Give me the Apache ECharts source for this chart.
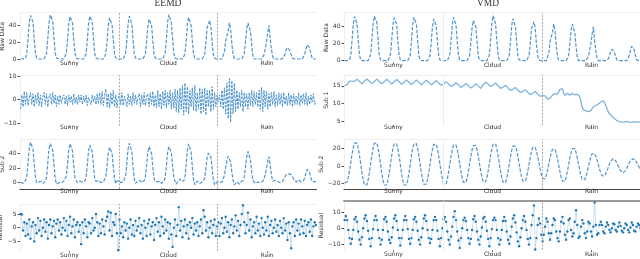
<!DOCTYPE html>
<html><head><meta charset="utf-8">
<script src="https://cdn.jsdelivr.net/npm/echarts@6/dist/echarts.min.js"></script>
<style>html,body{margin:0;padding:0;background:#fff}#c{width:640px;height:259px}</style>
</head><body><div id="c"></div>
<script>
// ---------- data ----------
const segments = ['Sunny', 'Cloud', 'Rain'];
const methods = ['EEMD', 'VMD'];
const rowNames = ['Raw Data', 'Sub 1', 'Sub 2', 'Residual'];

const rawData = [
0,0,0,0,1,7,24,43,52,52.5,44,24,7,1,0,0,
0,0,0,0,1,7,24,43,52.5,53,45,25,7,1,0,0,
0,0,0,0,1,7,23,42,50.5,51,43,23,7,1,0,0,
0,0,0,0,1,6,23,42,51,51.5,43,24,6,1,0,0,
0,0,0,0,1,6,22,40,49,49.5,41,23,6,1,0,0,
0,0,0,0,1,7,23,42,51,50.5,42,23,6,1,0,0,
0,0,0,0,1,6,21,39,47.5,48,40,22,6,1,0,0,
0,0,0,0,1,7,24,44,53,52,43,24,7,1,0,0,
0,0,0,0,1,6,22,41,49.5,48,40,22,6,1,0,0,
0,0,0,0,1,6,20,38,41,46,39,20,5,1,0,0,
0,0,0,0,2,9,22,28,34,43,35,18,5,1,0,0,
0,0,0,0,1,6,20,36,43,41,33,17,4,0,0,0,
0,0,0,0,1,5,12,20,31,40,24,12,3,0,0,0,
0,0,0,0,0,2,6,11,13.5,13,10,5,1,0,0,0,
0,0,0,0,0,2,6,12,17,18,13,6,1,0,0,0
];

const eemdSub1 = [
-4,2,-3,3.5,-2,3,-2.5,1,3,-2,2.5,-3,2,-1.5,3,-2.5,
2,-3,1.5,3,-2,2.5,-3,1,2.5,-2,3,-1.5,2,-3,1.5,-2,
2,-1.5,1,2,-2,1.5,-2.5,2,-1,1.5,-2,2.5,-1.5,1,-2,2,
-1,2,-2,1.5,-1,2,-2.5,1,1.5,-2,2,-1,1.5,-2,2.5,-1.5,
3,-2,3.5,-2.5,2,4.5,-3,2.5,-3.5,3,-2,4,-3,2,-3.5,1,
2.5,-2,3,-2.5,1.5,2,-3,2.5,-2,1.5,-2.5,3,-1.5,2,-2,1,
2.5,-3,2,-2,3,-2.5,1.5,2.5,-3,3,-2,3.5,-3,2,-3.5,4,
-3,2.5,-4,3.5,-2.5,4,-3.5,3,-2,4,-4,3,-3.5,4.5,-5,4,
-5.5,5,-4,6,-6.5,7,-5,5.5,-6,4,-3,5,-4.5,6,-5,3,
-4,5,-6,4.5,-5,5,-6.5,4,-3,4,-5,5.5,-4,3,-3,2,
-1,2,-3,4,-4,5,-6,7,-8,9,-9.5,8,-6,7,-5,4,
-4,3,-3,4,-5,3,-3,2.5,-4,3,-2.5,4,-3,3.5,-2,3,
-3,4,-4,5.2,-5,4,-3,3.5,-4,2.5,-3,3,-2,3.5,-3,2,
-2.5,3,-2,2.5,-3,3,-2,1.5,-2.5,3,-2,2,-3,2.5,-2,1.5,
-2,3,-2.5,2,-1.5,2.5,-2,3,-2.5,1.5,-2,2,-1,2.5,-2,-1
];

const eemdSub2 = [
1,0,-1,1,3,9,28,47,55,55.5,46,26,8,0,-1,1,
0,2,-1,-2,2,8,27,46,53,53.6,44,25,6,-2,-3,0,
1,0,-1,2,3,9,26,45,53,53.6,43,23,6,3,0,1,
2,4,1,-1,2,7,25,43,51,51.8,42,22,5,2,1,3,
1,0,2,1,3,8,24,41,48,47.5,40,22,6,-1,2,4,
3,0,-2,1,2,9,27,46,53.6,52,42,22,5,-1,1,2,
1,3,0,2,3,8,24,42,49,48.5,40,21,6,2,4,1,
0,2,-1,1,2,7,23,42,49,48,41,23,7,2,-2,1,
3,5,2,0,2,8,25,45,52.7,51,42,21,4,-3,1,0,
2,-1,-3,1,2,6,20,35,40,42.7,35,19,4,-3,-4,1,
3,0,-1,1,3,10,22,30,36,37.3,28,14,3,-3,-2,1,
0,-2,1,2,3,7,21,35,42.7,40,31,15,3,2,-1,1,
1,3,0,-1,2,5,11,19,29,35.5,24,11,2,1,3,1,
2,1,0,1,2,4,8,11,13.6,12,10,11,8,5,3,1,
2,4,2,1,2,3,7,13,18,19,13,6,2,2,1,2
];

const eemdResidual = [
5,4.8,-1,2,-3,1.5,-2.5,3,-4,0.5,2,-5,1,-2,3.5,-1,
2.5,-3,0,3,-1.5,2,-4,1,3,-2,0.5,2.5,-3.5,1.5,3,-1,
2,-2.5,0,3.5,-1,2.5,-3,1,4,-2,0.5,3,-3.5,1,2,-1.5,
1,-6,2,-2,3,0.5,-3.5,2,1.5,-2,3.5,-1,0,5,2,-3,
1.5,-2,3,0.5,-2.5,2.5,4,5.9,-1,5.5,-3,2,1,5,-2,-8.2,
3,-2,0.5,-3.5,2,-1,1.5,-4,0,3,-2.5,1,-3,2.5,-1,0.5,
3.5,-2,1,-4,2.5,0,-3,1.5,3,-2.5,0.5,2,-4.5,1,3.5,-1.5,
2,-3,4,0.5,-2,3,-1,2,-4,1.5,-2.5,-7,0,3,-3,1,
7.5,-1,2.5,-3.5,0.5,3,-2,1,-4,2,0,3.5,-2.5,1.5,-1,2,
-3,0.5,3,-2,6.4,4,-1,2,-3.5,0,2.5,-2,1,3,-3,0.5,
2,-3,1.5,3.5,-2,0,4,-1.5,2,-3.5,1,3,-2,0.5,4.5,-1,
2.5,-3,1,5,8.2,2,-2,1,5.5,-1,3,-3.5,0.5,2,-2,4,
-1,1.5,-3,3.5,0,-2.5,2,-1,4,-3,1,2.5,-2,0,3,-1.5,
1,-3,2.5,0,-2,3.5,-1,1.5,-4.5,2,-2,-7.5,0.5,2,-3,3,
-1,1.5,-2.5,3,0.5,-2,2.5,-3,1,2,-1.5,3,-3,0.5,2,1
];

const vmdSub1 = [
15.0,15.0,15.3,15.8,16.3,16.5,16.3,15.9,16.2,16.65,16.85,16.65,16.2,15.75,15.55,15.75,
16.25,16.7,16.9,16.7,16.25,15.8,15.6,15.8,16.2,16.65,16.85,16.65,16.2,15.75,15.55,15.75,
16.15,16.6,16.8,16.6,16.15,15.7,15.5,15.7,16.1,16.55,16.75,16.55,16.1,15.65,15.45,15.65,
16.0,16.45,16.65,16.45,16.0,15.55,15.35,15.55,15.95,16.4,16.6,16.4,15.95,15.5,15.3,15.5,
15.9,16.35,16.55,16.35,15.9,15.45,15.25,15.45,15.8,16.25,16.45,16.25,15.8,15.35,15.15,15.35,
15.5,15.95,16.15,15.95,15.5,15.05,14.85,15.05,15.2,15.65,15.85,15.65,15.2,14.75,14.55,14.75,
15.0,15.45,15.65,15.45,15.0,14.55,14.35,14.55,14.9,15.35,15.55,15.35,14.9,14.45,14.25,14.45,
15.3,15.75,16.0,15.8,15.4,14.95,14.8,14.95,15.2,15.6,15.8,15.55,15.0,14.5,14.3,14.45,
14.6,15.0,15.15,14.9,14.4,13.95,13.75,13.9,14.0,14.4,14.5,14.25,13.8,13.35,13.15,13.3,
13.4,13.8,13.9,13.65,13.2,12.75,12.55,12.7,12.9,13.3,13.4,13.15,12.7,12.25,12.05,12.2,
12.3,12.5,12.2,11.7,11.3,11.2,11.5,12.0,12.4,12.6,12.8,12.6,12.7,13.3,14.0,14.5,
14.2,13.0,12.3,12.5,12.9,12.8,12.4,12.6,12.9,12.8,12.5,12.4,12.6,12.3,12.0,11.8,
9.0,8.3,8.1,8.0,7.9,7.8,7.9,8.1,8.6,9.1,9.4,9.5,9.7,9.9,10.2,10.5,
10.8,10.9,10.4,9.6,8.6,7.8,7.2,6.8,6.5,6.2,5.9,5.6,5.3,5.1,5.0,5.0,
4.9,4.8,4.9,5.0,5.1,5.0,4.9,4.8,4.8,4.9,5.0,5.0,4.9,4.8,4.9,5.0
];

const vmdSub2 = [
-19.5,-20,-18.2,-12.9,-5,4.3,13.5,21.4,26.7,28.5,26.5,20.8,12.4,2.4,-7.7,-16.1,
-21.8,-23.8,-21.8,-16.1,-7.7,2.4,12.4,20.8,26.5,28.5,26.5,20.8,12.3,2.3,-7.8,-16.3,
-22,-24,-22,-16.4,-8.1,1.9,11.8,20.1,25.7,27.7,25.7,20.1,11.8,1.9,-8.1,-16.4,
-22,-24,-22,-16.4,-8.1,1.9,11.8,20.1,25.7,27.7,25.8,20.3,12.1,2.4,-7.4,-15.6,
-21.1,-23,-21.1,-15.7,-7.6,2,11.6,19.7,25.1,27,25.1,19.8,11.8,2.4,-7.1,-15.1,
-20.4,-22.3,-20.5,-15.2,-7.4,1.9,11.1,18.9,24.2,26,24.2,19.1,11.6,2.6,-6.4,-13.9,
-19,-20.8,-19,-14,-6.6,2.3,11.1,18.6,23.6,25.4,23.7,18.8,11.4,2.7,-6,-13.3,
-18.3,-20,-18.2,-13.1,-5.5,3.5,12.5,20.1,25.2,27,25.2,20,12.3,3.1,-6.1,-13.8,
-19,-20.8,-19.1,-14.2,-6.8,1.9,10.6,17.9,22.9,24.6,22.9,18.2,11.2,2.8,-5.6,-12.6,
-17.3,-19,-17.4,-12.8,-6,2,10,16.8,21.4,23,21.5,17.3,11,3.5,-4,-10.3,
-14.5,-16,-14.6,-10.6,-4.7,2.4,9.4,15.4,19.4,20.8,19.3,15,8.5,0.9,-6.7,-13.2,
-17.5,-19,-17.5,-13.1,-6.5,1.3,9,15.6,20,21.5,20,15.9,9.6,2.3,-5.1,-11.4,
-15.5,-17,-15.8,-12.3,-7,-0.8,5.4,10.7,14.2,15.4,14.4,11.3,6.9,1.6,-3.8,-8.2,
-11.2,-12.3,-11.5,-9.3,-5.9,-1.9,2.1,5.5,7.7,8.5,7.9,6.1,3.5,0.4,-2.7,-5.3,
-7.1,-7.7,-7.1,-5.3,-2.7,0.4,3.5,6.1,7.9,8.5,8,6.4,4,1.3,-1.5,-3.9
];

const vmdResidual = [
5,7.5,5,-1,-6,-9.5,-6.5,-1,5.5,7,4,-2,-7,-10,-5.5,0,
6,8,4.5,-1.5,-6.5,-11,-6,-0.5,5,7.5,5,-1,-6,-10,-7,-1,
5.5,7,4,-2,-7,-9,-5.5,0.5,6,8,4.5,-1,-6,-10.5,-6,-1,
5,7.5,5,-0.5,-6.5,-9.5,-6,-1,5.5,7,4,-1.5,-7,-10,-5.5,0,
6,8,4.5,-1,-6,-9,-6.5,-1,5,7,5,-1.5,-6.5,-11,-6,0,
5.5,7,4,-2,-7,-10,-5,1,7,10.5,5,-2,-7.5,-12,-6,0,
5,6.5,4.5,-1,-6,-9.5,-6.5,-1,5.5,7.5,4,-2,-7,-10,-5,0.5,
6,7,4,-1.5,-6.5,-11,-6,-0.5,5,6.5,5,-1,-6,-10,-7,-1,
4.5,7,4.5,-2,-7,-9.5,-5,1,6,8,3.5,-2.5,-8,-11,-5.5,0,
5,7.5,4,-1,-6.5,-10,-6,2,8,14,-13,-6,2,6,3,-4,
-8,-4,1,6,4,-3,-7,-3,2,6,5,-2,-6,-8,-2,4,
7,3,-4,-7,-2,5,6,-1,-5,-3,4,11,2,-6,-5,1,
5,3,-3,-6,-2,4,3,-2,-5,1,15.8,2,-4,-3,2,4,
2,-2,-3,1,3.5,2,-1,-2.5,0,3,2.5,-1,-2,1,3.5,1.5,
-1.5,-2.5,0,3,2,-1,-2.5,0.5,3.5,2,-1.5,-2,1,3,2,0
];

const eemdTicks = [[0, 20, 40], [-10, 0, 10], [0, 20, 40], [-5, 0, 5]];
const vmdTicks = [[0, 20, 40], [5, 10, 15], [-20, 0, 20], [-10, 0, 10]];

// ---------- layout / style ----------
const N = rawData.length;
const FONT = 'DejaVu Sans';
const cols = [
  { left: 20, width: 296.5, titleX: 168, series: [rawData, eemdSub1, eemdSub2, eemdResidual], ticks: eemdTicks,
    rows: [
      { top: 12, h: 48.7, min: -2, max: 56, lm: 0 },
      { top: 75.3, h: 50.5, min: -11, max: 10.3, lm: -1.5 },
      { top: 139.3, h: 49.7, min: -8.6, max: 59, lm: -0.5 },
      { top: 204, h: 47, min: -8.5, max: 8.65, lm: 1.5 }],
    div: [{ color: '#a8a8a8', type: [2, 1.5], width: 1 }, { color: '#a8a8a8', type: [2, 1.5], width: 1 }] },
  { left: 344, width: 297, titleX: 488, series: [rawData, vmdSub1, vmdSub2, vmdResidual], ticks: vmdTicks,
    rows: [
      { top: 12.7, h: 49.7, min: -2, max: 56.5, lm: 0 },
      { top: 75, h: 50.3, min: 4, max: 18, lm: -0.5 },
      { top: 139.3, h: 49.7, min: -26.6, max: 30.9, lm: -0.5 },
      { top: 201, h: 49, min: -13.3, max: 16.7, lm: 1.5 }],
    div: [{ color: '#ececec', type: 'solid', width: 1 }, { color: '#a8a8a8', type: [2, 1.5], width: 1 }] }
];

const lineStyles = [
  [ { color: '#4f95cf', width: 1.2, type: [3.6, 1.6] },
    { color: '#3d8ac7', width: 0.9, type: [2.6, 1.2] },
    { color: '#4f95cf', width: 1.2, type: [3.6, 1.6] },
    null ],
  [ { color: '#4f95cf', width: 1.2, type: [3.6, 1.6] },
    { color: '#7db4e0', width: 1.3, type: 'solid' },
    { color: '#4f95cf', width: 1.2, type: [3.6, 1.6] },
    null ]
];

const fmt = v => (v < 0 ? '\u2212' + Math.abs(v) : String(v));

const option = { animation: false, backgroundColor: '#fff', grid: [], xAxis: [], yAxis: [], series: [], title: [] };

cols.forEach((col, c) => {
  option.title.push({ text: methods[c], left: col.titleX, top: -2, textAlign: 'center', padding: 0,
    textStyle: { fontFamily: 'Liberation Serif', fontWeight: 'normal', fontSize: 9.5, color: '#333' } });
  col.rows.forEach((r, k) => {
    const g = option.grid.length;
    option.grid.push({ left: col.left, top: r.top, width: col.width, height: r.h, outerBoundsMode: 'none', containLabel: false });
    const topLine = (c === 1 && k === 3) ? { color: '#9a9a9a', width: 2 } : { color: '#efefef', width: 1 };
    option.xAxis.push({ type: 'value', gridIndex: g, min: 0, max: N, position: 'top',
      axisLine: { show: true, onZero: false, lineStyle: topLine },
      axisTick: { show: false }, axisLabel: { show: false }, splitLine: { show: false } });
    option.xAxis.push({ type: 'category', gridIndex: g, data: segments, position: 'bottom', boundaryGap: true,
      axisLine: { show: k === 2, onZero: false, lineStyle: { color: '#444', width: 1.2 } },
      axisTick: { show: true, alignWithLabel: true, length: 2, lineStyle: { color: '#777' } },
      axisLabel: { fontSize: 6, color: '#333', fontFamily: FONT, margin: r.lm },
      splitLine: { show: false } });
    option.yAxis.push({ type: 'value', gridIndex: g, min: r.min, max: r.max,
      name: rowNames[k], nameLocation: 'middle', nameGap: 14, nameRotate: 90,
      nameTextStyle: { fontSize: 6, color: '#333', fontFamily: FONT },
      axisLine: { show: true, onZero: false, lineStyle: { color: '#eeeeee' } },
      axisTick: { show: true, length: 2.5, lineStyle: { color: '#555' }, customValues: col.ticks[k] },
      axisLabel: { fontSize: 6, color: '#333', fontFamily: FONT, margin: 3.5, customValues: col.ticks[k], formatter: fmt },
      splitLine: { show: false } });
    const pts = col.series[k].map((v, i) => [i + 0.5, v]);
    const s = { type: 'line', xAxisIndex: 2 * g, yAxisIndex: g, data: pts, silent: true,
      markLine: { silent: true, symbol: ['none', 'none'], animation: false, label: { show: false },
        data: [ { xAxis: N / 3, lineStyle: col.div[0] }, { xAxis: 2 * N / 3, lineStyle: col.div[1] } ] } };
    if (k === 3) {
      Object.assign(s, { showSymbol: true, showAllSymbol: true, symbol: 'circle', symbolSize: 2.4,
        itemStyle: { color: '#1f77b4' }, lineStyle: { color: 'rgba(31,119,180,0.28)', width: 0.8 } });
    } else {
      Object.assign(s, { showSymbol: false, lineStyle: lineStyles[c][k] });
    }
    option.series.push(s);
  });
});

const chart = echarts.init(document.getElementById('c'), null, { renderer: 'canvas', width: 640, height: 259 });
chart.setOption(option);
</script>
</body></html>
